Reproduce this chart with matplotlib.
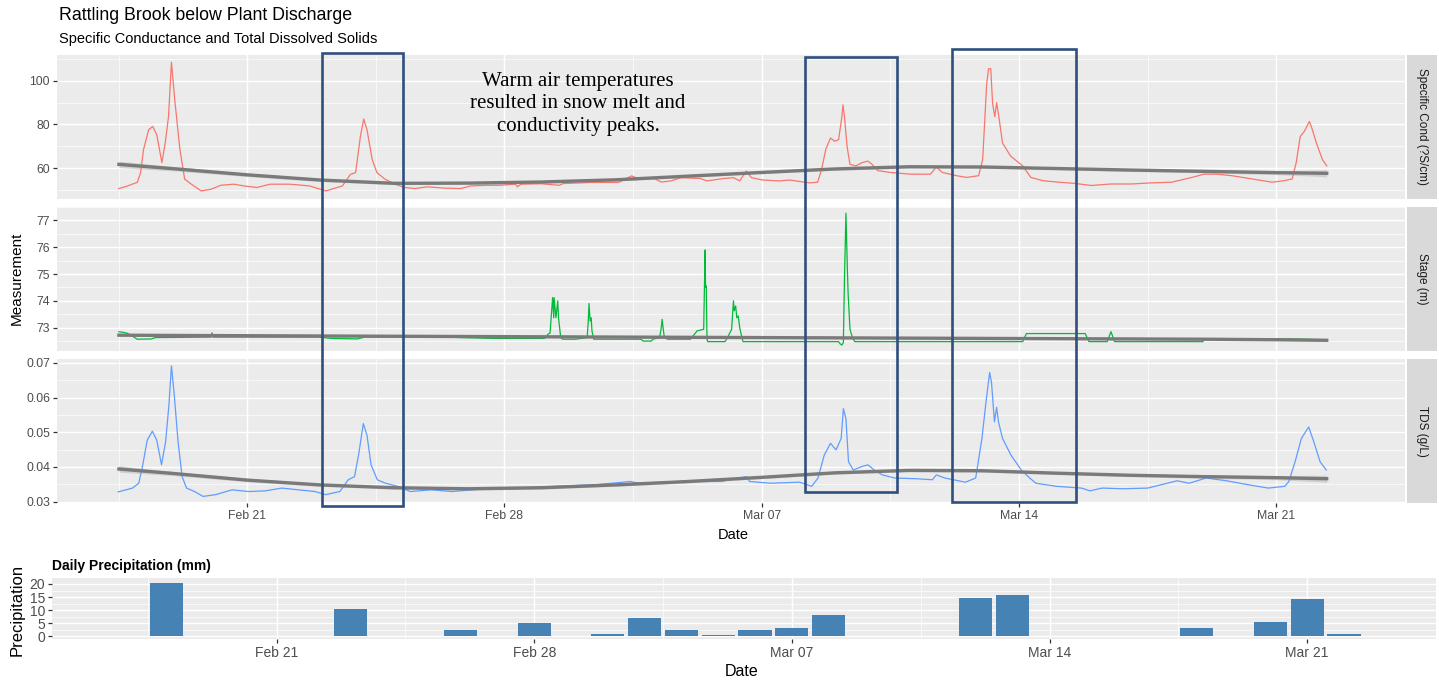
import numpy as np
import pandas as pd
import matplotlib
matplotlib.use("Agg")
import matplotlib.pyplot as plt
import matplotlib.dates as mdates
from matplotlib.patches import Rectangle

plt.rcParams["font.family"] = ["Liberation Sans", "DejaVu Sans"]

W, H = 1439, 682
t0 = pd.Timestamp("2021-02-21")

# ---- sensor series (days after Feb 21 00:00, value) ----
cond_days = [-3.49, -3.30, -3.13, -2.99, -2.90, -2.82, -2.68, -2.57, -2.46, -2.32, -2.23, -2.14,
             -2.06, -1.97, -1.83, -1.70, -1.52, -1.25, -0.98, -0.72, -0.36, -0.09, 0.27, 0.62,
             1.16, 1.70, 2.14, 2.59, 2.81, 2.95, 3.08, 3.17, 3.26, 3.40, 3.53, 3.75,
             4.02, 4.29, 4.56, 4.90, 5.36, 5.81, 6.08, 6.52, 6.88, 7.30, 7.35, 7.45,
             8.00, 8.49, 8.60, 9.38, 10.10, 10.28, 10.46, 10.63, 11.08, 11.26, 11.53, 11.80,
             12.33, 12.51, 12.96, 13.23, 13.40, 13.58, 13.72, 14.03, 14.48, 14.76,
             15.30, 15.52, 15.63, 15.74, 15.87,
             15.98, 16.09, 16.18, 16.21, 16.25, 16.32, 16.40, 16.56, 16.73, 16.89, 17.0, 17.16,
             17.49, 18.04, 18.59, 18.75, 18.91, 19.3, 19.57, 19.90, 20.01, 20.12, 20.17, 20.23,
             20.28, 20.34, 20.39, 20.45, 20.55, 20.77, 21.10, 21.32, 21.65, 22.09, 22.5, 22.96,
             23.51, 24.06, 24.60, 25.15, 25.70, 26.03, 26.36, 26.79, 27.34, 27.89, 28.21, 28.43,
             28.54, 28.65, 28.76, 28.90, 28.98, 29.09, 29.25, 29.37]
cond_vals = [50.6, 51.5, 52.6, 53.4, 57.9, 68.5, 77.6, 79.1, 75.3, 62.5, 71.5, 83.6,
             108.6, 91.2, 68.5, 54.9, 52.6, 49.5, 50.3, 52.1, 52.6, 51.8, 51.1, 52.6,
             52.6, 51.8, 49.5, 51.8, 57.1, 57.9, 74.5, 82.5, 77.6, 64.0, 57.9, 54.9,
             52.6, 51.1, 50.6, 51.4, 50.8, 50.6, 51.8, 52.1, 52.1, 52.6, 51.4, 52.6,
             52.8, 52.1, 52.9, 53.4, 53.4, 54.9, 56.4, 55.2, 55.2, 53.6, 54.1, 55.6,
             55.2, 54.1, 55.2, 55.6, 54.1, 58.6, 55.6, 54.5, 54.1, 54.5,
             53.2, 53.5, 59.5, 68.5, 73.8,
             72.3, 73.0, 83.6, 89.0, 83.6, 70.0, 61.7, 61.0, 62.5, 63.2, 61.7, 58.8,
             58.0, 57.2, 57.2, 60.5, 58.0, 56.5, 55.7, 56.5, 64.0, 98.8, 105.6, 105.6,
             89.7, 83.6, 90.0, 83.6, 71.5, 65.5, 61.0, 55.7, 54.2, 53.5, 53.0, 52.0,
             52.7, 52.7, 53.2, 53.5, 55.7, 57.2, 57.2, 56.5, 55.0, 53.5, 54.2, 55.0,
             62.5, 74.5, 76.8, 81.4, 77.6, 71.5, 64.0, 61.0]

stage_days = [-3.49, -3.35, -3.26, -3.13, -2.99, -2.60, -2.50, -0.98, -0.96, -0.93, 1.25, 1.92,
              2.30, 3.00, 3.20, 5.00, 6.70, 8.09, 8.18, 8.24, 8.31, 8.34, 8.35, 8.40, 8.45,
              8.47, 8.51, 8.53, 8.58, 8.94, 9.25, 9.28, 9.30, 9.33, 9.36, 9.38, 9.43, 10.72,
              10.77, 10.99, 11.04, 11.22, 11.26, 11.29, 11.32, 11.35, 11.44, 12.06, 12.24,
              12.42, 12.44, 12.46, 12.47, 12.49, 12.51, 12.53, 13.00, 13.09, 13.18, 13.23,
              13.25, 13.29, 13.32, 13.36, 13.40, 13.45, 13.49, 16.09, 16.13, 16.18, 16.22,
              16.25, 16.29, 16.33, 16.35, 16.40, 16.44, 16.49, 16.53, 21.10, 21.20, 22.80,
              22.90, 23.40, 23.50, 23.60, 26.00, 26.05, 28.40, 29.37]
stage_vals = [72.85, 72.82, 72.79, 72.69, 72.57, 72.58, 72.63, 72.65, 72.81, 72.65, 72.65, 72.65,
              72.60, 72.58, 72.65, 72.66, 72.60, 72.60, 72.75, 72.80, 74.12, 73.37, 74.12, 73.37, 74.00,
              73.37, 72.88, 72.63, 72.57, 72.57, 72.63, 73.25, 73.90, 73.25, 73.37, 72.88, 72.57, 72.57,
              72.50, 72.50, 72.57, 72.63, 72.94, 73.31, 72.94, 72.63, 72.57, 72.57, 72.88,
              72.94, 74.50, 75.90, 74.50, 74.56, 72.57, 72.48, 72.48, 72.69, 72.94, 74.00,
              73.63, 73.81, 73.37, 73.44, 73.00, 72.69, 72.48, 72.48, 72.40, 72.35, 72.45,
              74.81, 77.27, 75.12, 74.25, 72.94, 72.75, 72.57, 72.48, 72.48, 72.78, 72.78,
              72.48, 72.48, 72.85, 72.48, 72.48, 72.58, 72.58, 72.55]

tds_days = [-3.51, -3.12, -2.95, -2.84, -2.72, -2.58, -2.46, -2.33, -2.22, -2.13, -2.06, -1.99,
            -1.88, -1.77, -1.65, -1.43, -1.20, -0.86, -0.41, 0.04, 0.49, 0.94, 1.39, 1.85,
            2.13, 2.52, 2.75, 2.92, 3.03, 3.16, 3.26, 3.37, 3.54, 3.76, 4.10, 4.44, 5.01,
            5.57, 6.13, 6.70, 7.26, 8.39, 9.52, 10.42, 10.65, 11.77, 12.90, 13.58, 13.67,
            14.24, 15.03, 15.36, 15.53, 15.70, 15.87, 16.02, 16.16, 16.22, 16.29, 16.36,
            16.49, 16.72, 16.89, 17.06, 17.28, 17.62, 18.19, 18.64, 18.75, 18.98, 19.54,
            19.82, 19.99, 20.11, 20.20, 20.25, 20.33, 20.39, 20.44, 20.55, 20.78, 21.06,
            21.29, 21.46, 22.02, 22.70, 22.93, 23.26, 23.83, 24.50, 25.30, 25.63, 26.09,
            26.65, 27.21, 27.78, 28.23, 28.34, 28.51, 28.68, 28.88, 29.02, 29.19, 29.36]
tds_vals = [0.0328, 0.0339, 0.0353, 0.0406, 0.0477, 0.0503, 0.0477, 0.0406, 0.0472, 0.0577, 0.0691, 0.0615,
            0.0472, 0.0372, 0.0339, 0.0329, 0.0315, 0.0320, 0.0334, 0.0329, 0.0331, 0.0339, 0.0334, 0.0329,
            0.0320, 0.0329, 0.0363, 0.0372, 0.0434, 0.0525, 0.0491, 0.0406, 0.0363, 0.0353, 0.0344, 0.0329, 0.0334,
            0.0329, 0.0334, 0.0339, 0.0337, 0.0344, 0.0349, 0.0358, 0.0353, 0.0358, 0.0358, 0.0372, 0.0358,
            0.0353, 0.0356, 0.0344, 0.0368, 0.0434, 0.0468, 0.0449, 0.0482, 0.0568, 0.0539, 0.0415,
            0.0391, 0.0401, 0.0406, 0.0391, 0.0377, 0.0368, 0.0366, 0.0363, 0.0377, 0.0368, 0.0356,
            0.0368, 0.0482, 0.0596, 0.0672, 0.0644, 0.0530, 0.0572, 0.0530, 0.0482, 0.0434, 0.0391,
            0.0368, 0.0353, 0.0344, 0.0339, 0.0331, 0.0339, 0.0337, 0.0339, 0.0360, 0.0353, 0.0368,
            0.0360, 0.0349, 0.0339, 0.0344, 0.0358, 0.0415, 0.0482, 0.0515, 0.0472, 0.0415, 0.0391]

# ---- smoothed trends (fit, standard error) ----
smooth_days = [-3.49, -2, 0, 2, 4, 6, 8, 10, 12, 14, 16, 18, 20, 22, 24, 26, 28, 29.37]
cond_fit = [61.7, 59.7, 56.9, 54.5, 53.0, 53.1, 53.6, 54.6, 56.3, 58.0, 59.6, 60.6, 60.5, 59.8,
            59.1, 58.5, 57.9, 57.6]
cond_se = [1.5, 1.0, 0.8, 0.7, 0.6, 0.6, 0.6, 0.6, 0.6, 0.6, 0.6, 0.6, 0.6, 0.6, 0.6, 0.7, 0.9, 1.6]
stage_fit = [72.72, 72.71, 72.70, 72.69, 72.68, 72.67, 72.66, 72.65, 72.64, 72.63, 72.62, 72.61,
             72.60, 72.59, 72.58, 72.57, 72.55, 72.53]
stage_se = [0.03, 0.02, 0.02, 0.02, 0.02, 0.02, 0.02, 0.02, 0.02, 0.02, 0.02, 0.02, 0.02, 0.02,
            0.02, 0.02, 0.02, 0.03]
tds_fit = [0.0394, 0.0381, 0.0362, 0.0348, 0.0340, 0.0337, 0.0340, 0.0348, 0.0358, 0.0370, 0.0383,
           0.0390, 0.0389, 0.0382, 0.0376, 0.0372, 0.0369, 0.0366]
tds_se = [0.0009, 0.0006, 0.0005, 0.0004, 0.0004, 0.0004, 0.0004, 0.0004, 0.0004, 0.0004, 0.0004,
          0.0004, 0.0004, 0.0004, 0.0004, 0.0005, 0.0006, 0.0010]

# ---- daily precipitation ----
precip_dates = ["2021-02-18", "2021-02-23", "2021-02-26", "2021-02-28", "2021-03-02", "2021-03-03",
                "2021-03-04", "2021-03-05", "2021-03-06", "2021-03-07", "2021-03-08", "2021-03-12",
                "2021-03-13", "2021-03-18", "2021-03-20", "2021-03-21", "2021-03-22"]
precip_mm = [20.5, 10.3, 2.2, 4.9, 1.0, 6.9, 2.2, 0.6, 2.2, 3.2, 8.2, 14.6, 15.9, 3.2, 5.5, 14.1, 0.7]

week_ticks = ["2021-02-21", "2021-02-28", "2021-03-07", "2021-03-14", "2021-03-21"]


def days_to_dt(days):
    return t0 + pd.to_timedelta(np.asarray(days, dtype=float), unit="D")


fig = plt.figure(figsize=(W / 100, H / 100), dpi=100)


def panel(l, t, r, b):
    return fig.add_axes([l / W, 1 - b / H, (r - l) / W, (b - t) / H])


major_x = pd.to_datetime(week_ticks)
minor_x = major_x - pd.Timedelta(days=3.5)
minor_x = minor_x.append(pd.DatetimeIndex([major_x[-1] + pd.Timedelta(days=3.5)]))


def gg(ax, xlim, ylim, yt, ylab, ymin, fs, show_x):
    ax.set_facecolor("#EBEBEB")
    for sp in ax.spines.values():
        sp.set_visible(False)
    ax.set_xlim(xlim)
    ax.set_ylim(ylim)
    ax.set_xticks(major_x)
    ax.set_xticks(minor_x, minor=True)
    ax.set_yticks(yt)
    ax.set_yticklabels(ylab)
    ax.set_yticks(ymin, minor=True)
    ax.xaxis.set_major_formatter(mdates.DateFormatter("%b %d"))
    ax.grid(which="major", color="white", lw=1.05)
    ax.grid(which="minor", color="white", lw=0.5)
    ax.set_axisbelow(True)
    ax.tick_params(which="major", length=3, width=0.9, color="#333333",
                   labelcolor="#4D4D4D", labelsize=fs, pad=2)
    ax.tick_params(which="minor", length=0)
    if not show_x:
        ax.tick_params(axis="x", which="major", length=0, labelbottom=False)


def strip(t, b, label):
    s = panel(1407, t, 1437, b)
    s.set_facecolor("#D9D9D9")
    s.set_xticks([])
    s.set_yticks([])
    for sp in s.spines.values():
        sp.set_visible(False)
    s.text(0.5, 0.5, label, rotation=-90, ha="center", va="center", fontsize=8.5,
           color="#1A1A1A", transform=s.transAxes)


xlim_top = (t0 + pd.Timedelta(days=-5.174), t0 + pd.Timedelta(days=30.97))
smooth_dt = days_to_dt(smooth_days)

rows = [
    (55, 199, cond_days, cond_vals, "#F8766D", cond_fit, cond_se, (45.8, 111.9),
     [60, 80, 100], ["60", "80", "100"], [50, 70, 90, 110], "Specific Cond (?S/cm)", False),
    (207, 351, stage_days, stage_vals, "#00BA38", stage_fit, stage_se, (72.13, 77.45),
     [73, 74, 75, 76, 77], ["73", "74", "75", "76", "77"], [72.5, 73.5, 74.5, 75.5, 76.5, 77.5],
     "Stage (m)", False),
    (359, 503, tds_days, tds_vals, "#619CFF", tds_fit, tds_se, (0.0296, 0.0711),
     [0.03, 0.04, 0.05, 0.06, 0.07], ["0.03", "0.04", "0.05", "0.06", "0.07"],
     [0.035, 0.045, 0.055, 0.065], "TDS (g/L)", True),
]

for t, b, d, v, col, fit, se, ylim, yt, ylab, ymin, lab, showx in rows:
    ax = panel(57, t, 1405, b)
    gg(ax, xlim_top, ylim, yt, ylab, ymin, 8.8, showx)
    ax.plot(days_to_dt(d), v, color=col, lw=0.9)
    fit = np.array(fit)
    se = np.array(se)
    ax.fill_between(smooth_dt, fit - se, fit + se, color="#BDBDBD", alpha=0.6, lw=0)
    ax.plot(smooth_dt, fit, color="#7A7A7A", lw=2.4)
    strip(t, b, lab)

fig.text(17 / W, 1 - 278 / H, "Measurement", rotation=90, ha="center", va="center",
         fontsize=11, color="black")
fig.text(733 / W, 1 - 535 / H, "Date", ha="center", va="center", fontsize=10.5, color="black")

fig.text(59 / W, 1 - 16 / H, "Rattling Brook below Plant Discharge", fontsize=12.8,
         va="center", color="black")
fig.text(59 / W, 1 - 39 / H, "Specific Conductance and Total Dissolved Solids", fontsize=10.5,
         va="center", color="black")

# annotation boxes and note
box_col = "#2F4F7F"
for l, t, r, b in [(322, 53, 403, 506), (805, 57, 897, 492), (952, 49, 1076, 502)]:
    fig.add_artist(Rectangle((l / W, 1 - b / H), (r - l) / W, (b - t) / H, fill=False,
                             ec=box_col, lw=1.9, transform=fig.transFigure))
fig.text(578 / W, 1 - 104 / H,
         "Warm air temperatures\nresulted in snow melt and\nconductivity peaks.",
         family=["Liberation Serif", "DejaVu Serif"], fontsize=15, ha="center", va="center",
         linespacing=1.22, color="black")

# precipitation panel
pax = panel(52, 578, 1436, 639)
xlim_bot = (t0 + pd.Timedelta(days=-6.10), t0 + pd.Timedelta(days=31.22))
gg(pax, xlim_bot, (-1.1, 22.3), [0, 5, 10, 15, 20], ["0", "5", "10", "15", "20"],
   [2.5, 7.5, 12.5, 17.5], 10, True)
pax.bar(pd.to_datetime(precip_dates), precip_mm, width=0.9, color="#4682B4")
fig.text(52 / W, 1 - 566 / H, "Daily Precipitation (mm)", fontweight="bold", fontsize=10,
         va="center", color="black")
fig.text(17 / W, 1 - 610 / H, "Precipitation", rotation=90, ha="center", va="center",
         fontsize=12, color="black")
fig.text(742 / W, 1 - 672 / H, "Date", ha="center", va="center", fontsize=11.5, color="black")

fig.savefig("out.png", dpi=100)
